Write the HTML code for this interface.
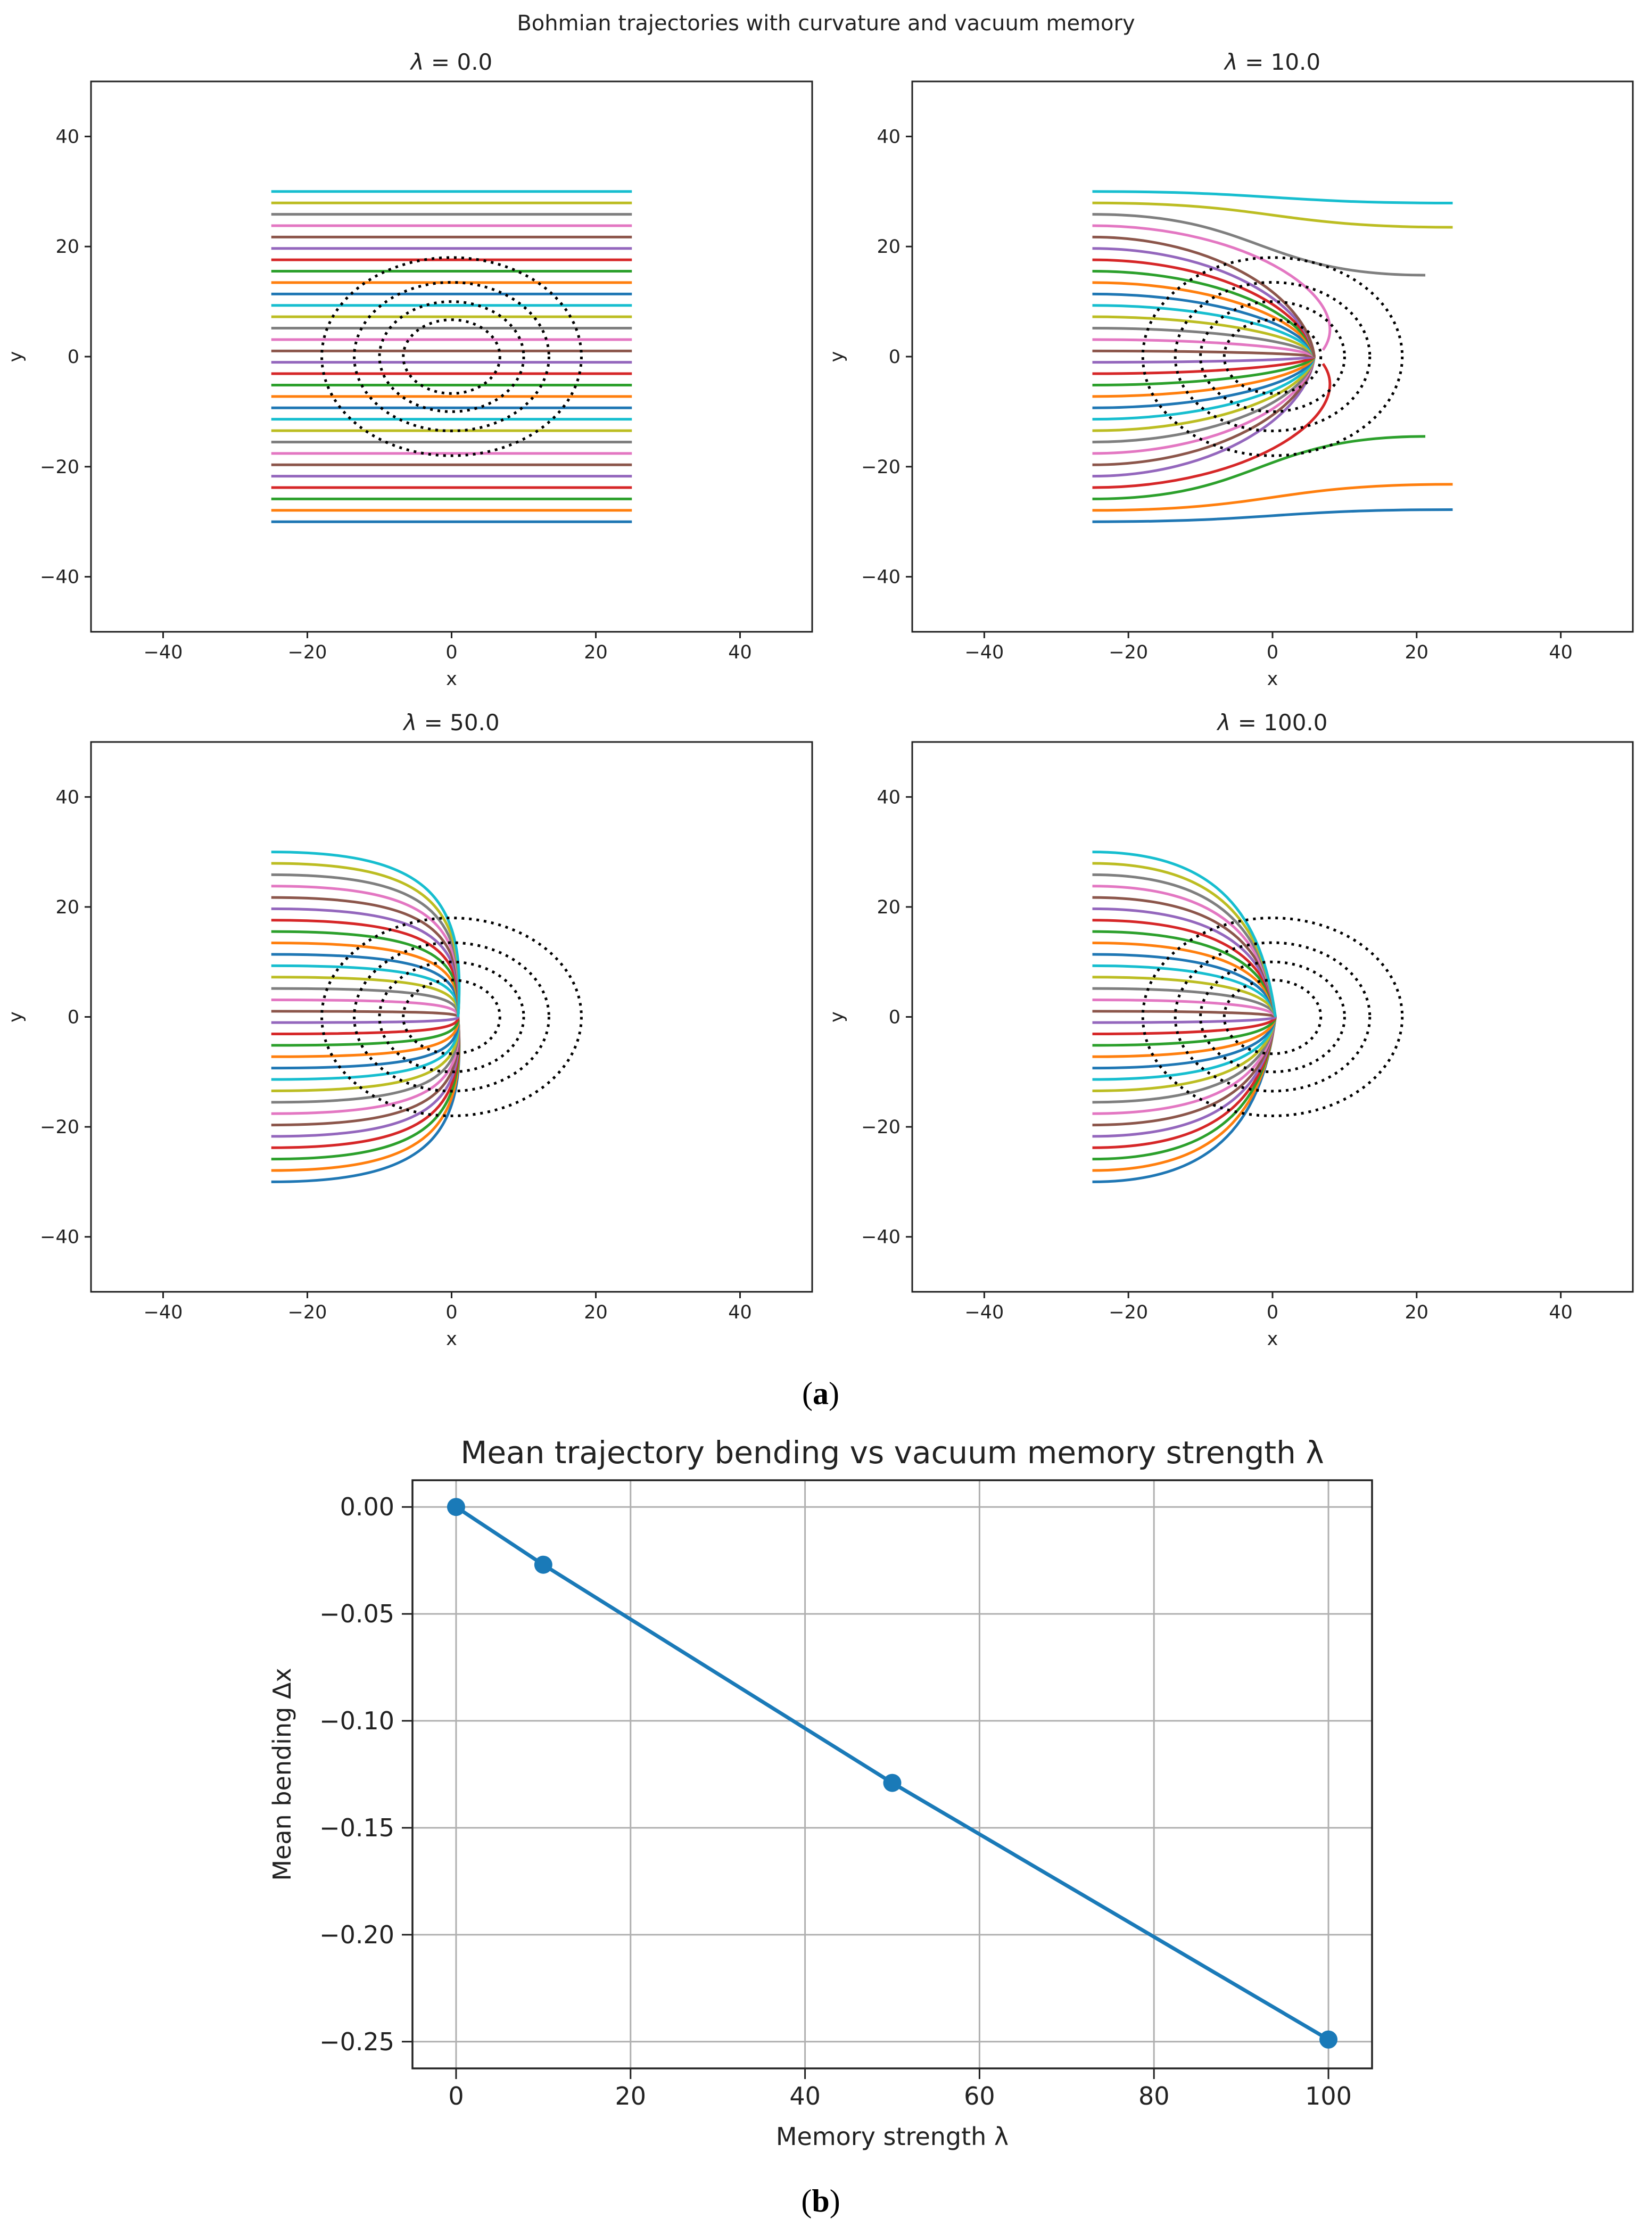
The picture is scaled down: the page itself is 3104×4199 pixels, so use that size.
<!DOCTYPE html>
<html><head><meta charset="utf-8"><style>
html,body{margin:0;padding:0;background:#fff;}
svg{display:block;font-family:"DejaVu Sans","Liberation Sans",sans-serif;}
</style></head><body>
<svg id="fig" width="3104" height="4199" viewBox="0 0 3104 4199" xmlns="http://www.w3.org/2000/svg">
<rect width="3104" height="4199" fill="#fff"/>
<text x="1552" y="57" font-size="40" text-anchor="middle" fill="#222">Bohmian trajectories with curvature and vacuum memory</text>
<text x="1542" y="2638" font-size="60" text-anchor="middle" font-family="Liberation Serif, serif">(<tspan font-weight="bold">a</tspan>)</text>
<text x="1542" y="4155" font-size="60" text-anchor="middle" font-family="Liberation Serif, serif">(<tspan font-weight="bold">b</tspan>)</text>
</svg>
<script>
// ---- panel data (a) ----
const lambdas = [0.0, 10.0, 50.0, 100.0];
const startY = [-30,-27.93,-25.86,-23.79,-21.72,-19.66,-17.59,-15.52,-13.45,-11.38,-9.31,-7.24,-5.17,-3.10,-1.03,1.03,3.10,5.17,7.24,9.31,11.38,13.45,15.52,17.59,19.66,21.72,23.79,25.86,27.93,30];
const startX = -25;
const endX0 = [25,25,25,25,25,25,25,25,25,25,25,25,25,25,25,25,25,25,25,25,25,25,25,25,25,25,25,25,25,25];
const endY0 = [-30,-27.93,-25.86,-23.79,-21.72,-19.66,-17.59,-15.52,-13.45,-11.38,-9.31,-7.24,-5.17,-3.10,-1.03,1.03,3.10,5.17,7.24,9.31,11.38,13.45,15.52,17.59,19.66,21.72,23.79,25.86,27.93,30];
const endX10 = [25,25,21.2,7,5.8,5.8,5.8,5.8,5.8,5.8,5.8,5.8,5.8,5.8,5.8,5.8,5.8,5.8,5.8,5.8,5.8,5.8,5.8,5.8,5.8,5.8,7,21.2,25,25];
const endY10 = [-27.8,-23.2,-14.5,-1.3,0,0,0,0,0,0,0,0,0,0,0,0,0,0,0,0,0,0,0,0,0,0,1.2,14.8,23.5,27.9];
const endX50 = [0.9,0.9,0.9,0.9,0.9,0.9,0.9,0.9,0.9,0.9,0.9,0.9,0.9,0.9,0.9,0.9,0.9,0.9,0.9,0.9,0.9,0.9,0.9,0.9,0.9,0.9,0.9,0.9,0.9,0.9];
const endY50 = [0,0,0,0,0,0,0,0,0,0,0,0,0,0,0,0,0,0,0,0,0,0,0,0,0,0,0,0,0,0];
const endX100 = [0.4,0.4,0.4,0.4,0.4,0.4,0.4,0.4,0.4,0.4,0.4,0.4,0.4,0.4,0.4,0.4,0.4,0.4,0.4,0.4,0.4,0.4,0.4,0.4,0.4,0.4,0.4,0.4,0.4,0.4];
const endY100 = [0,0,0,0,0,0,0,0,0,0,0,0,0,0,0,0,0,0,0,0,0,0,0,0,0,0,0,0,0,0];
const circleRadii = [6.7, 10, 13.5, 18];
const panelTicks = [-40,-20,0,20,40];
const colors = ["#1f77b4","#ff7f0e","#2ca02c","#d62728","#9467bd","#8c564b","#e377c2","#7f7f7f","#bcbd22","#17becf"];
// ---- chart data (b) ----
const memLambda = [0, 10, 50, 100];
const meanBend = [0, -0.027, -0.129, -0.249];
const bXTicks = [0,20,40,60,80,100];
const bYTicks = [0.00,-0.05,-0.10,-0.15,-0.20,-0.25];
const bYTickLabels = ["0.00","\u22120.05","\u22120.10","\u22120.15","\u22120.20","\u22120.25"];

const NS = "http://www.w3.org/2000/svg";
const svg = document.getElementById('fig');
function mk(tag, attrs, parent){
  const e = document.createElementNS(NS, tag);
  for (const k in attrs) e.setAttribute(k, attrs[k]);
  (parent||svg).appendChild(e);
  return e;
}
function fmt(v){ return (v<0?"\u2212":"")+Math.abs(v); }

const panels = [
  {L:171, R:1526, T:153, B:1187, endX:endX0, endY:endY0, mode:0},
  {L:1714, R:3068, T:153, B:1187, endX:endX10, endY:endY10, mode:1},
  {L:171, R:1526, T:1394, B:2427, endX:endX50, endY:endY50, mode:2},
  {L:1714, R:3068, T:1394, B:2427, endX:endX100, endY:endY100, mode:3}
];
panels.forEach((p, pi) => {
  const g = mk('g', {});
  
  
  const sx = v => p.L + (v + 50) / 100 * (p.R - p.L);
  const sy = v => p.B - (v + 50) / 100 * (p.B - p.T);
  const cx = (p.L + p.R) / 2;
  startY.forEach((y0, i) => {
    const xe = p.endX[i], ye = p.endY[i], x0 = startX;
    let c1x, c1y, c2x, c2y;
    if (xe >= 15) { const m = x0 + 0.5*(xe-x0); c1x=m; c1y=y0; c2x=m; c2y=ye; }
    else if (Math.abs(ye) > 0.5) { c1x=-3; c1y=y0; c2x=xe+5; c2y=ye+0.4*(y0-ye); }
    else if (p.mode===1) { c1x=x0+0.55*(xe-x0); c1y=y0; c2x=xe-1; c2y=0.5*y0; }
    else if (p.mode===2) { c1x=x0+0.85*(xe-x0); c1y=y0; c2x=xe+0.04*Math.abs(y0); c2y=ye+0.72*y0; }
    else { c1x=x0+0.7*(xe-x0); c1y=y0; c2x=xe-0.06*Math.abs(y0); c2y=ye+0.6*y0; }
    const path = mk('path', {d:`M${sx(x0)},${sy(y0)} C${sx(c1x)},${sy(c1y)} ${sx(c2x)},${sy(c2y)} ${sx(xe)},${sy(ye)}`, fill:'none', stroke:colors[i%10], 'stroke-width':5}, g);
    
    
  });
  circleRadii.forEach((r, k) => {
    const c = mk('ellipse', {cx:sx(0), cy:sy(0), rx:sx(r)-sx(0), ry:sy(0)-sy(r), fill:'none', stroke:'#000', 'stroke-width':5, 'stroke-dasharray':'5 9'}, g);
    
    
  });
  const fr = mk('rect', {x:p.L, y:p.T, width:p.R-p.L, height:p.B-p.T, fill:'none', stroke:'#222', 'stroke-width':3}, g);
  
  
  panelTicks.forEach(t => {
    mk('line', {x1:sx(t), x2:sx(t), y1:p.B, y2:p.B+12, stroke:'#222', 'stroke-width':3}, g);
    const xl = mk('text', {x:sx(t), y:p.B+50, 'font-size':35, 'text-anchor':'middle', fill:'#222'}, g);
    xl.textContent = fmt(t);
    
    
    mk('line', {x1:p.L-12, x2:p.L, y1:sy(t), y2:sy(t), stroke:'#222', 'stroke-width':3}, g);
    const yl = mk('text', {x:p.L-22, y:sy(t)+12, 'font-size':35, 'text-anchor':'end', fill:'#222'}, g);
    yl.textContent = fmt(t);
    
    
  });
  const xt = mk('text', {x:cx, y:p.B+100, 'font-size':35, 'text-anchor':'middle', fill:'#222'}, g);
  xt.textContent = 'x';
  
  
  const yc = (p.T+p.B)/2;
  const yt = mk('text', {x:p.L-130, y:yc, 'font-size':35, 'text-anchor':'middle', transform:`rotate(-90 ${p.L-130} ${yc})`, fill:'#222'}, g);
  yt.textContent = 'y';
  
  
  const tt = mk('text', {x:cx, y:p.T-22, 'font-size':42, 'text-anchor':'middle', fill:'#222'}, g);
  const ts = document.createElementNS(NS,'tspan'); ts.setAttribute('font-style','italic'); ts.textContent='\u03bb'; tt.appendChild(ts);
  tt.appendChild(document.createTextNode(' = ' + lambdas[pi].toFixed(1)));
  
  
});

// ---- chart (b) ----
(function(){
  const L=775, R=2578, T=2781, B=3886;
  const xmin=-5, xmax=105, ymax=0.0125, ymin=-0.2625;
  const sx = v => L + (v - xmin)/(xmax - xmin)*(R-L);
  const sy = v => T + (ymax - v)/(ymax - ymin)*(B-T);
  const g = mk('g', {});
  
  
  bXTicks.forEach(t => {
    const gl = mk('line', {x1:sx(t), x2:sx(t), y1:T, y2:B, stroke:'#b0b0b0', 'stroke-width':3}, g);
    
    
    mk('line', {x1:sx(t), x2:sx(t), y1:B, y2:B+20, stroke:'#222', 'stroke-width':3}, g);
    const l = mk('text', {x:sx(t), y:B+68, 'font-size':46, 'text-anchor':'middle', fill:'#222'}, g);
    l.textContent = String(t);
    
    
  });
  bYTicks.forEach((t, i) => {
    const gl = mk('line', {x1:L, x2:R, y1:sy(t), y2:sy(t), stroke:'#b0b0b0', 'stroke-width':3}, g);
    
    
    mk('line', {x1:L-20, x2:L, y1:sy(t), y2:sy(t), stroke:'#222', 'stroke-width':3}, g);
    const l = mk('text', {x:L-34, y:sy(t)+16, 'font-size':46, 'text-anchor':'end', fill:'#222'}, g);
    l.textContent = bYTickLabels[i];
    
    
  });
  const pts = memLambda.map((x,i)=>sx(x)+','+sy(meanBend[i])).join(' ');
  const line = mk('polyline', {points:pts, fill:'none', stroke:'#1a7ab8', 'stroke-width':7}, g);
  
  
  memLambda.forEach((x,i) => {
    const c = mk('circle', {cx:sx(x), cy:sy(meanBend[i]), r:17, fill:'#1a7ab8'}, g);
    
    
  });
  const fr = mk('rect', {x:L, y:T, width:R-L, height:B-T, fill:'none', stroke:'#222', 'stroke-width':3.5}, g);
  
  
  const title = mk('text', {x:(L+R)/2, y:2749, 'font-size':58, 'text-anchor':'middle', fill:'#222'}, g);
  title.textContent = 'Mean trajectory bending vs vacuum memory strength \u03bb';
  
  
  const xt = mk('text', {x:(L+R)/2, y:4030, 'font-size':46, 'text-anchor':'middle', fill:'#222'}, g);
  xt.textContent = 'Memory strength \u03bb';
  
  
  const yc=(T+B)/2;
  const yt = mk('text', {x:546, y:yc, 'font-size':46, 'text-anchor':'middle', transform:`rotate(-90 546 ${yc})`, fill:'#222'}, g);
  yt.textContent = 'Mean bending \u0394x';
  
  
})();
</script>
</body></html>
